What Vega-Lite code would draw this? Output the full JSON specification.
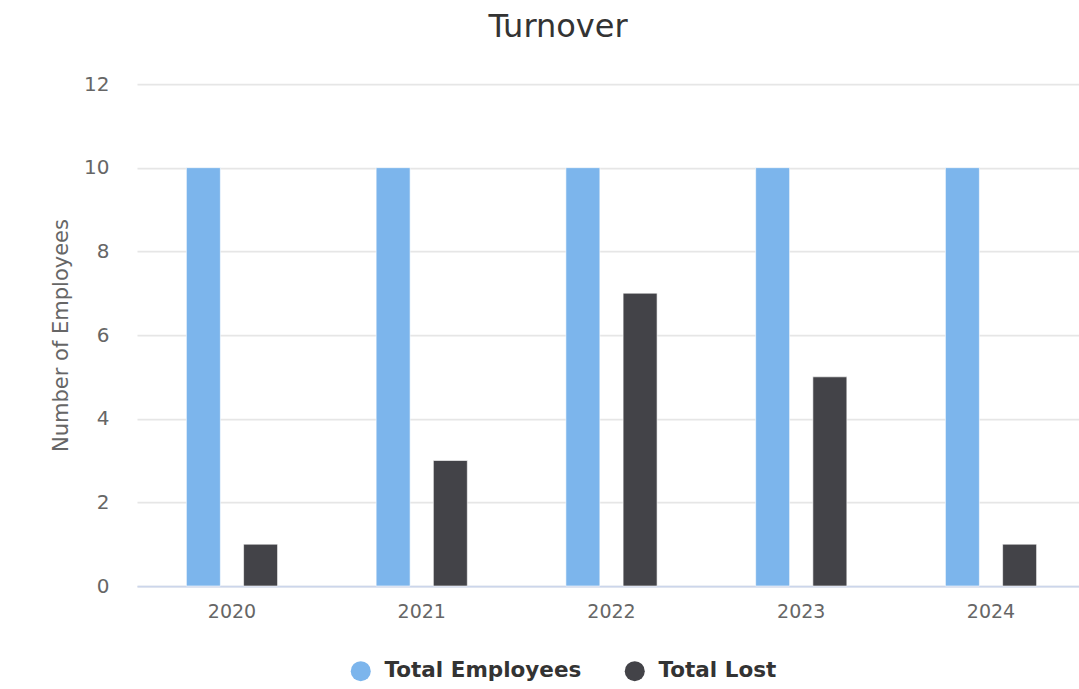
{
  "$schema": "https://vega.github.io/schema/vega-lite/v6.json",
  "autosize": {"type": "none"},
  "padding": {"left": 137, "top": 84, "right": 0, "bottom": 103},
  "width": 942,
  "height": 502,
  "background": "#ffffff",
  "title": {
    "text": "Turnover",
    "anchor": "middle",
    "dx": -50,
    "offset": 30,
    "font": "DejaVu Sans",
    "fontSize": 32,
    "fontWeight": "normal",
    "color": "#333333"
  },
  "data": {
    "values": [
      {"year": "2020", "series": "Total Employees", "value": 10},
      {"year": "2020", "series": "Total Lost", "value": 1},
      {"year": "2021", "series": "Total Employees", "value": 10},
      {"year": "2021", "series": "Total Lost", "value": 3},
      {"year": "2022", "series": "Total Employees", "value": 10},
      {"year": "2022", "series": "Total Lost", "value": 7},
      {"year": "2023", "series": "Total Employees", "value": 10},
      {"year": "2023", "series": "Total Lost", "value": 5},
      {"year": "2024", "series": "Total Employees", "value": 10},
      {"year": "2024", "series": "Total Lost", "value": 1}
    ]
  },
  "mark": {"type": "bar", "stroke": "#ffffff", "strokeWidth": 1, "strokeOpacity": 0.6},
  "encoding": {
    "x": {
      "field": "year",
      "type": "nominal",
      "scale": {"paddingInner": 0.5194, "paddingOuter": 0.2418, "align": 0.538},
      "axis": {
        "title": null,
        "labelAngle": 0,
        "labelFont": "DejaVu Sans",
        "labelFontSize": 19,
        "labelColor": "#666666",
        "labelPadding": 16,
        "ticks": false,
        "domainColor": "#ccd6eb",
        "domainWidth": 1.75,
        "grid": false
      }
    },
    "xOffset": {
      "field": "series",
      "type": "nominal",
      "sort": ["Total Employees", "Total Lost"],
      "scale": {"paddingInner": 0.406, "paddingOuter": 0}
    },
    "y": {
      "field": "value",
      "type": "quantitative",
      "scale": {"domain": [0, 12], "nice": false},
      "axis": {
        "title": "Number of Employees",
        "titleFont": "DejaVu Sans",
        "titleFontSize": 21,
        "titleFontWeight": "normal",
        "titleColor": "#666666",
        "titlePadding": 12,
        "values": [0, 2, 4, 6, 8, 10, 12],
        "labelFont": "DejaVu Sans",
        "labelFontSize": 20,
        "labelColor": "#666666",
        "labelPadding": 28,
        "ticks": false,
        "domain": false,
        "gridColor": "#e6e6e6",
        "gridWidth": 1.75
      }
    },
    "color": {
      "field": "series",
      "type": "nominal",
      "scale": {"domain": ["Total Employees", "Total Lost"], "range": ["#7cb5ec", "#434348"]},
      "legend": {
        "title": null,
        "orient": "none",
        "direction": "horizontal",
        "legendX": 213,
        "legendY": 576,
        "symbolType": "circle",
        "symbolSize": 400,
        "symbolStrokeWidth": 0,
        "symbolOpacity": 1,
        "labelFont": "DejaVu Sans",
        "labelFontSize": 21.5,
        "labelFontWeight": "bold",
        "labelColor": "#333333",
        "labelOffset": 13,
        "labelLimit": 400,
        "columnPadding": 42
      }
    }
  },
  "config": {
    "view": {"stroke": null},
    "axis": {"domainCap": "butt"}
  }
}
